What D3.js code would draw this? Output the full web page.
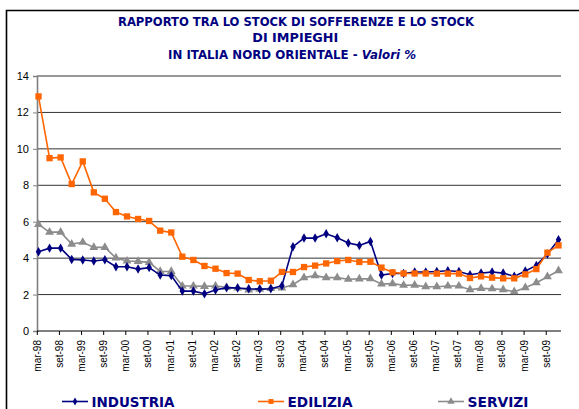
<!DOCTYPE html>
<html lang="it">
<head>
<meta charset="UTF-8">
<title>Rapporto sofferenze / impieghi</title>
<script src="https://d3js.org/d3.v7.min.js"></script>
<style>
  body { margin: 0; background: #fff; }
  svg { display: block; }
</style>
</head>
<body>
<div id="chart"></div>
<script>
// quarters mar-98 .. dic-09
const years = ["98","99","00","01","02","03","04","05","06","07","08","09"];
const months = ["mar","giu","set","dic"];
const quarters = years.flatMap(y => months.map(m => m + "-" + y));

const industria = [4.35,4.55,4.55,3.93,3.90,3.84,3.91,3.53,3.53,3.40,3.48,3.07,3.04,2.19,2.19,2.05,
  2.25,2.38,2.36,2.32,2.30,2.32,2.49,4.63,5.10,5.10,5.34,5.12,4.83,4.70,4.92,3.07,
  3.16,3.16,3.24,3.24,3.27,3.31,3.27,3.09,3.18,3.24,3.18,3.00,3.29,3.60,4.23,5.01];
const edilizia = [12.88,9.49,9.53,8.07,9.31,7.61,7.26,6.53,6.29,6.15,6.04,5.51,5.41,4.08,3.90,3.57,
  3.42,3.18,3.15,2.80,2.73,2.76,3.24,3.24,3.51,3.59,3.71,3.84,3.90,3.79,3.80,3.48,
  3.22,3.16,3.16,3.16,3.15,3.15,3.15,2.91,3.00,2.93,2.89,2.89,3.11,3.40,4.30,4.70];
const servizi = [5.85,5.43,5.43,4.77,4.87,4.59,4.59,4.01,3.84,3.82,3.77,3.27,3.27,2.47,2.47,2.45,
  2.47,2.40,2.36,2.25,2.29,2.34,2.36,2.54,2.93,3.04,2.93,2.93,2.84,2.86,2.87,2.58,
  2.60,2.51,2.52,2.43,2.43,2.47,2.47,2.27,2.34,2.32,2.27,2.16,2.38,2.65,2.98,3.31];

const yTicks = [0,2,4,6,8,10,12,14];
const titleLines = ["RAPPORTO TRA LO STOCK DI SOFFERENZE E LO STOCK", "DI IMPIEGHI", "IN ITALIA NORD ORIENTALE - "];

const series = [
  {name: "INDUSTRIA", values: industria, color: "#000080", shape: "diamond"},
  {name: "EDILIZIA", values: edilizia, color: "#FF6600", shape: "square"},
  {name: "SERVIZI", values: servizi, color: "#8C8C8C", shape: "triangle"}
];

const W = 579, H = 409;
const plotL = 37, plotR = 561, plotT = 76, plotB = 331;

const svg = d3.select("#chart").append("svg")
  .attr("width", W).attr("height", H);

svg.append("rect").attr("width", W).attr("height", H).attr("fill", "#fff");

// outer frame (right and bottom edges run off the picture)
svg.append("path")
  .attr("d", `M6.5,${H + 5}V10.5H${W + 5}`)
  .attr("fill", "none").attr("stroke", "#000").attr("stroke-width", 1.6);

const x = d3.scaleLinear().domain([0, quarters.length - 1]).range([38.5, 558.5]);
const xt = d3.scaleLinear().domain([0, quarters.length - 1]).range([36.8, 556.8]);
const y = d3.scaleLinear().domain([0, 14]).range([plotB, plotT]);

const font = "Tahoma, 'Liberation Sans', Arial, sans-serif";
const boldFont = "'DejaVu Sans', Verdana, sans-serif";

// title
const title = svg.append("g").attr("font-family", boldFont).attr("font-weight", "bold")
  .attr("fill", "#000080").attr("font-size", "11.5px").attr("text-anchor", "middle");
title.append("text").attr("x", 296).attr("y", 25.5)
  .attr("textLength", 356).attr("lengthAdjust", "spacingAndGlyphs").text(titleLines[0]);
title.append("text").attr("x", 295.3).attr("y", 42)
  .attr("textLength", 86).attr("lengthAdjust", "spacingAndGlyphs").text(titleLines[1]);
const t3 = title.append("text").attr("x", 292).attr("y", 59.3)
  .attr("textLength", 248).attr("lengthAdjust", "spacingAndGlyphs");
t3.append("tspan").text(titleLines[2]);
t3.append("tspan").attr("font-style", "italic").text("Valori %");

// gridlines
svg.append("g").selectAll("line")
  .data(yTicks.filter(d => d > 0))
  .join("line")
  .attr("x1", plotL).attr("x2", plotR)
  .attr("y1", d => y(d)).attr("y2", d => y(d))
  .attr("stroke", "#333").attr("stroke-width", 1);

// y axis
const yAxis = svg.append("g")
  .attr("transform", `translate(${plotL},0)`)
  .call(d3.axisLeft(y).tickValues(yTicks).tickSize(4).tickPadding(4));
yAxis.select(".domain").attr("stroke", "#808080").attr("stroke-width", 1.6);
yAxis.selectAll(".tick line").attr("stroke", "#808080");
yAxis.selectAll("text").attr("font-family", font).attr("font-size", "11px").attr("fill", "#000");

// x axis
const tickIdx = d3.range(0, quarters.length, 2);
const xAxis = svg.append("g")
  .attr("transform", `translate(0,${plotB})`)
  .call(d3.axisBottom(xt).tickValues(tickIdx).tickSize(4).tickFormat(i => quarters[i]));
xAxis.select(".domain").remove();
xAxis.selectAll(".tick line").attr("stroke", "#000");
xAxis.selectAll("text")
  .attr("font-family", font).attr("font-size", "10px").attr("fill", "#000")
  .attr("text-anchor", "end")
  .attr("transform", "rotate(-90)")
  .attr("x", -9).attr("y", 0).attr("dy", "0.35em");
svg.append("line")
  .attr("x1", plotL).attr("x2", plotR).attr("y1", plotB).attr("y2", plotB)
  .attr("stroke", "#000").attr("stroke-width", 1);

// markers
const symbolFor = {
  diamond: d3.symbol().type(d3.symbolDiamond).size(26),
  square: d3.symbol().type(d3.symbolSquare).size(40),
  triangle: d3.symbol().type(d3.symbolTriangle).size(34)
};

const line = d3.line().x((d, i) => x(i)).y(d => y(d));

// draw servizi first, then industria, edilizia on top as in the reference
[series[2], series[0], series[1]].forEach(s => {
  const g = svg.append("g");
  g.append("path")
    .attr("d", line(s.values))
    .attr("fill", "none").attr("stroke", s.color).attr("stroke-width", 1.6);
  g.selectAll("path.m")
    .data(s.values)
    .join("path").attr("class", "m")
    .attr("transform", (d, i) => `translate(${x(i)},${y(d)})`)
    .attr("d", symbolFor[s.shape]())
    .attr("fill", s.color);
});

// legend
const legendX = [62, 258, 438];
const legendW = [83, 65, 61];
const legend = svg.append("g");
series.forEach((s, k) => {
  const lg = legend.append("g").attr("transform", `translate(${legendX[k]},401.5)`);
  lg.append("line").attr("x1", 0).attr("x2", 26).attr("stroke", s.color).attr("stroke-width", 1.6);
  lg.append("path").attr("transform", "translate(13,0)")
    .attr("d", d3.symbol().type(
      s.shape === "diamond" ? d3.symbolDiamond : s.shape === "square" ? d3.symbolSquare : d3.symbolTriangle
    ).size(s.shape === "diamond" ? 18 : 24)())
    .attr("fill", s.color);
  lg.append("text")
    .attr("x", 29.5).attr("y", 0).attr("dy", "0.36em")
    .attr("font-family", boldFont).attr("font-weight", "bold").attr("font-size", "14px")
    .attr("textLength", legendW[k]).attr("lengthAdjust", "spacingAndGlyphs")
    .attr("fill", "#000080")
    .text(s.name);
});
</script>
</body>
</html>
